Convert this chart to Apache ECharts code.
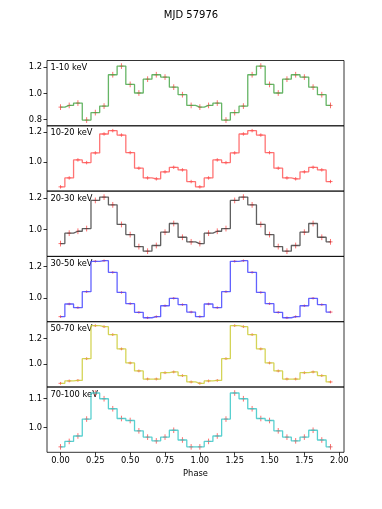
<!DOCTYPE html>
<html>
<head>
<meta charset="utf-8">
<script src="https://cdn.jsdelivr.net/npm/echarts@6/dist/echarts.min.js"></script>
<style>html,body{margin:0;padding:0;background:#fff;}#c{width:382px;height:509px;}</style>
</head>
<body>
<div id="c"></div>
<script>
// ---- data (one pulse period, 16 phase bins; the plot shows two periods) ----
const title = 'MJD 57976';
const bands = ['1-10 keV', '10-20 keV', '20-30 keV', '30-50 keV', '50-70 keV', '70-100 keV'];
const phaseBins = [0.0000, 0.0625, 0.1250, 0.1875, 0.2500, 0.3125, 0.3750, 0.4375,
                   0.5000, 0.5625, 0.6250, 0.6875, 0.7500, 0.8125, 0.8750, 0.9375];
const prof_1_10   = [0.895, 0.908, 0.926, 0.796, 0.853, 0.903, 1.143, 1.209, 1.069, 1.003, 1.109, 1.143, 1.125, 1.048, 0.990, 0.908];
const prof_10_20  = [0.838, 0.897, 1.016, 0.998, 1.062, 1.187, 1.209, 1.180, 1.064, 0.961, 0.897, 0.891, 0.937, 0.967, 0.950, 0.873];
const prof_20_30  = [0.911, 0.977, 0.989, 1.006, 1.184, 1.205, 1.156, 1.032, 0.968, 0.892, 0.863, 0.899, 0.983, 1.038, 0.951, 0.922];
const prof_30_50  = [0.882, 0.962, 0.939, 1.040, 1.232, 1.236, 1.162, 1.035, 0.964, 0.909, 0.875, 0.882, 0.951, 0.998, 0.958, 0.911];
const prof_50_70  = [0.847, 0.866, 0.870, 1.042, 1.303, 1.295, 1.232, 1.119, 1.008, 0.945, 0.881, 0.881, 0.931, 0.937, 0.908, 0.858];
const prof_70_100 = [0.932, 0.951, 0.970, 1.029, 1.120, 1.100, 1.065, 1.031, 1.024, 0.988, 0.966, 0.953, 0.966, 0.990, 0.956, 0.932];
const errors = [0.018, 0.008, 0.015, 0.005, 0.007, 0.008];
const yTicks = [[0.8, 1.0, 1.2], [1.0, 1.2], [1.0, 1.2], [1.0, 1.2], [1.0, 1.2], [1.0, 1.1]];
const xTicks = [0, 0.25, 0.5, 0.75, 1.0, 1.25, 1.5, 1.75, 2.0];
const xLabel = 'Phase';

// ---- layout / style ----
const profiles = [prof_1_10, prof_10_20, prof_20_30, prof_30_50, prof_50_70, prof_70_100];
const colors = ['#4aa84a', '#ff5a5a', '#444444', '#4646ff', '#cccc3a', '#3cc8c8'];
const yMin = [0.752, 0.810, 0.830, 0.850, 0.818, 0.913];
const yMax = [1.252, 1.241, 1.243, 1.263, 1.334, 1.141];
const FONT = 'DejaVu Sans';
const FS = 8.3;
const gridTop = 60.5, gridH = 65.3, gridLeft = 47, gridRight = 38;

const grids = [], xAxes = [], yAxes = [], series = [], graphics = [];
profiles.forEach((prof, i) => {
  const pts = [];
  for (let p = 0; p < 2; p++) {
    phaseBins.forEach((ph, k) => pts.push([ph + p, prof[k], errors[i]]));
  }
  const last = i === profiles.length - 1;
  grids.push({left: gridLeft, right: gridRight, top: gridTop + i * gridH, height: gridH,
    show: true, borderColor: '#000', borderWidth: 0.8, backgroundColor: 'transparent'});
  xAxes.push({type: 'value', gridIndex: i, min: -0.096875, max: 2.034375, position: 'bottom',
    axisLine: {show: false, onZero: false}, splitLine: {show: false},
    axisTick: {show: last, inside: false, length: 3.5, lineStyle: {color: '#000', width: 0.8}, customValues: xTicks},
    axisLabel: {show: last, customValues: xTicks, formatter: v => v.toFixed(2),
      fontFamily: FONT, fontSize: FS, color: '#000', margin: 5},
    name: last ? xLabel : '', nameLocation: 'middle', nameGap: 18,
    nameTextStyle: {fontFamily: FONT, fontSize: FS, color: '#000'}});
  yAxes.push({type: 'value', gridIndex: i, min: yMin[i], max: yMax[i], position: 'left',
    axisLine: {show: false, onZero: false}, splitLine: {show: false},
    axisTick: {show: true, inside: false, length: 3.5, lineStyle: {color: '#000', width: 0.8}, customValues: yTicks[i]},
    axisLabel: {show: true, customValues: yTicks[i], formatter: v => v.toFixed(1),
      fontFamily: FONT, fontSize: FS, color: '#000', margin: 5}});
  series.push({type: 'line', xAxisIndex: i, yAxisIndex: i, step: 'middle', data: pts,
    showSymbol: false, symbol: 'none', silent: true, animation: false,
    lineStyle: {color: colors[i], width: 1.3, opacity: 0.85}});
  series.push({type: 'custom', xAxisIndex: i, yAxisIndex: i, data: pts, silent: true, animation: false,
    renderItem: (params, api) => {
      const x = api.value(0), y = api.value(1), e = api.value(2);
      const top = api.coord([x, y + e]), bot = api.coord([x, y - e]), c = api.coord([x, y]);
      const st = {stroke: 'rgba(255,40,40,0.75)', lineWidth: 0.9};
      return {type: 'group', children: [
        {type: 'line', shape: {x1: top[0], y1: top[1] - 0.5, x2: bot[0], y2: bot[1] + 0.5}, style: st},
        {type: 'line', shape: {x1: c[0] - 2, y1: c[1], x2: c[0] + 2, y2: c[1]}, style: st}
      ]};
    }});
  graphics.push({type: 'text', left: gridLeft + 3.5, top: gridTop + i * gridH + 3.5,
    style: {text: bands[i], fontFamily: FONT, fontSize: FS, fill: '#000'}});
});
graphics.push({type: 'text', left: 'center', top: 10,
  style: {text: title, fontFamily: FONT, fontSize: 10, fill: '#000'}});

const chart = echarts.init(document.getElementById('c'), null, {renderer: 'canvas'});
chart.setOption({animation: false, backgroundColor: '#fff', grid: grids, xAxis: xAxes, yAxis: yAxes,
  series: series, graphic: graphics});
</script>
</body>
</html>
